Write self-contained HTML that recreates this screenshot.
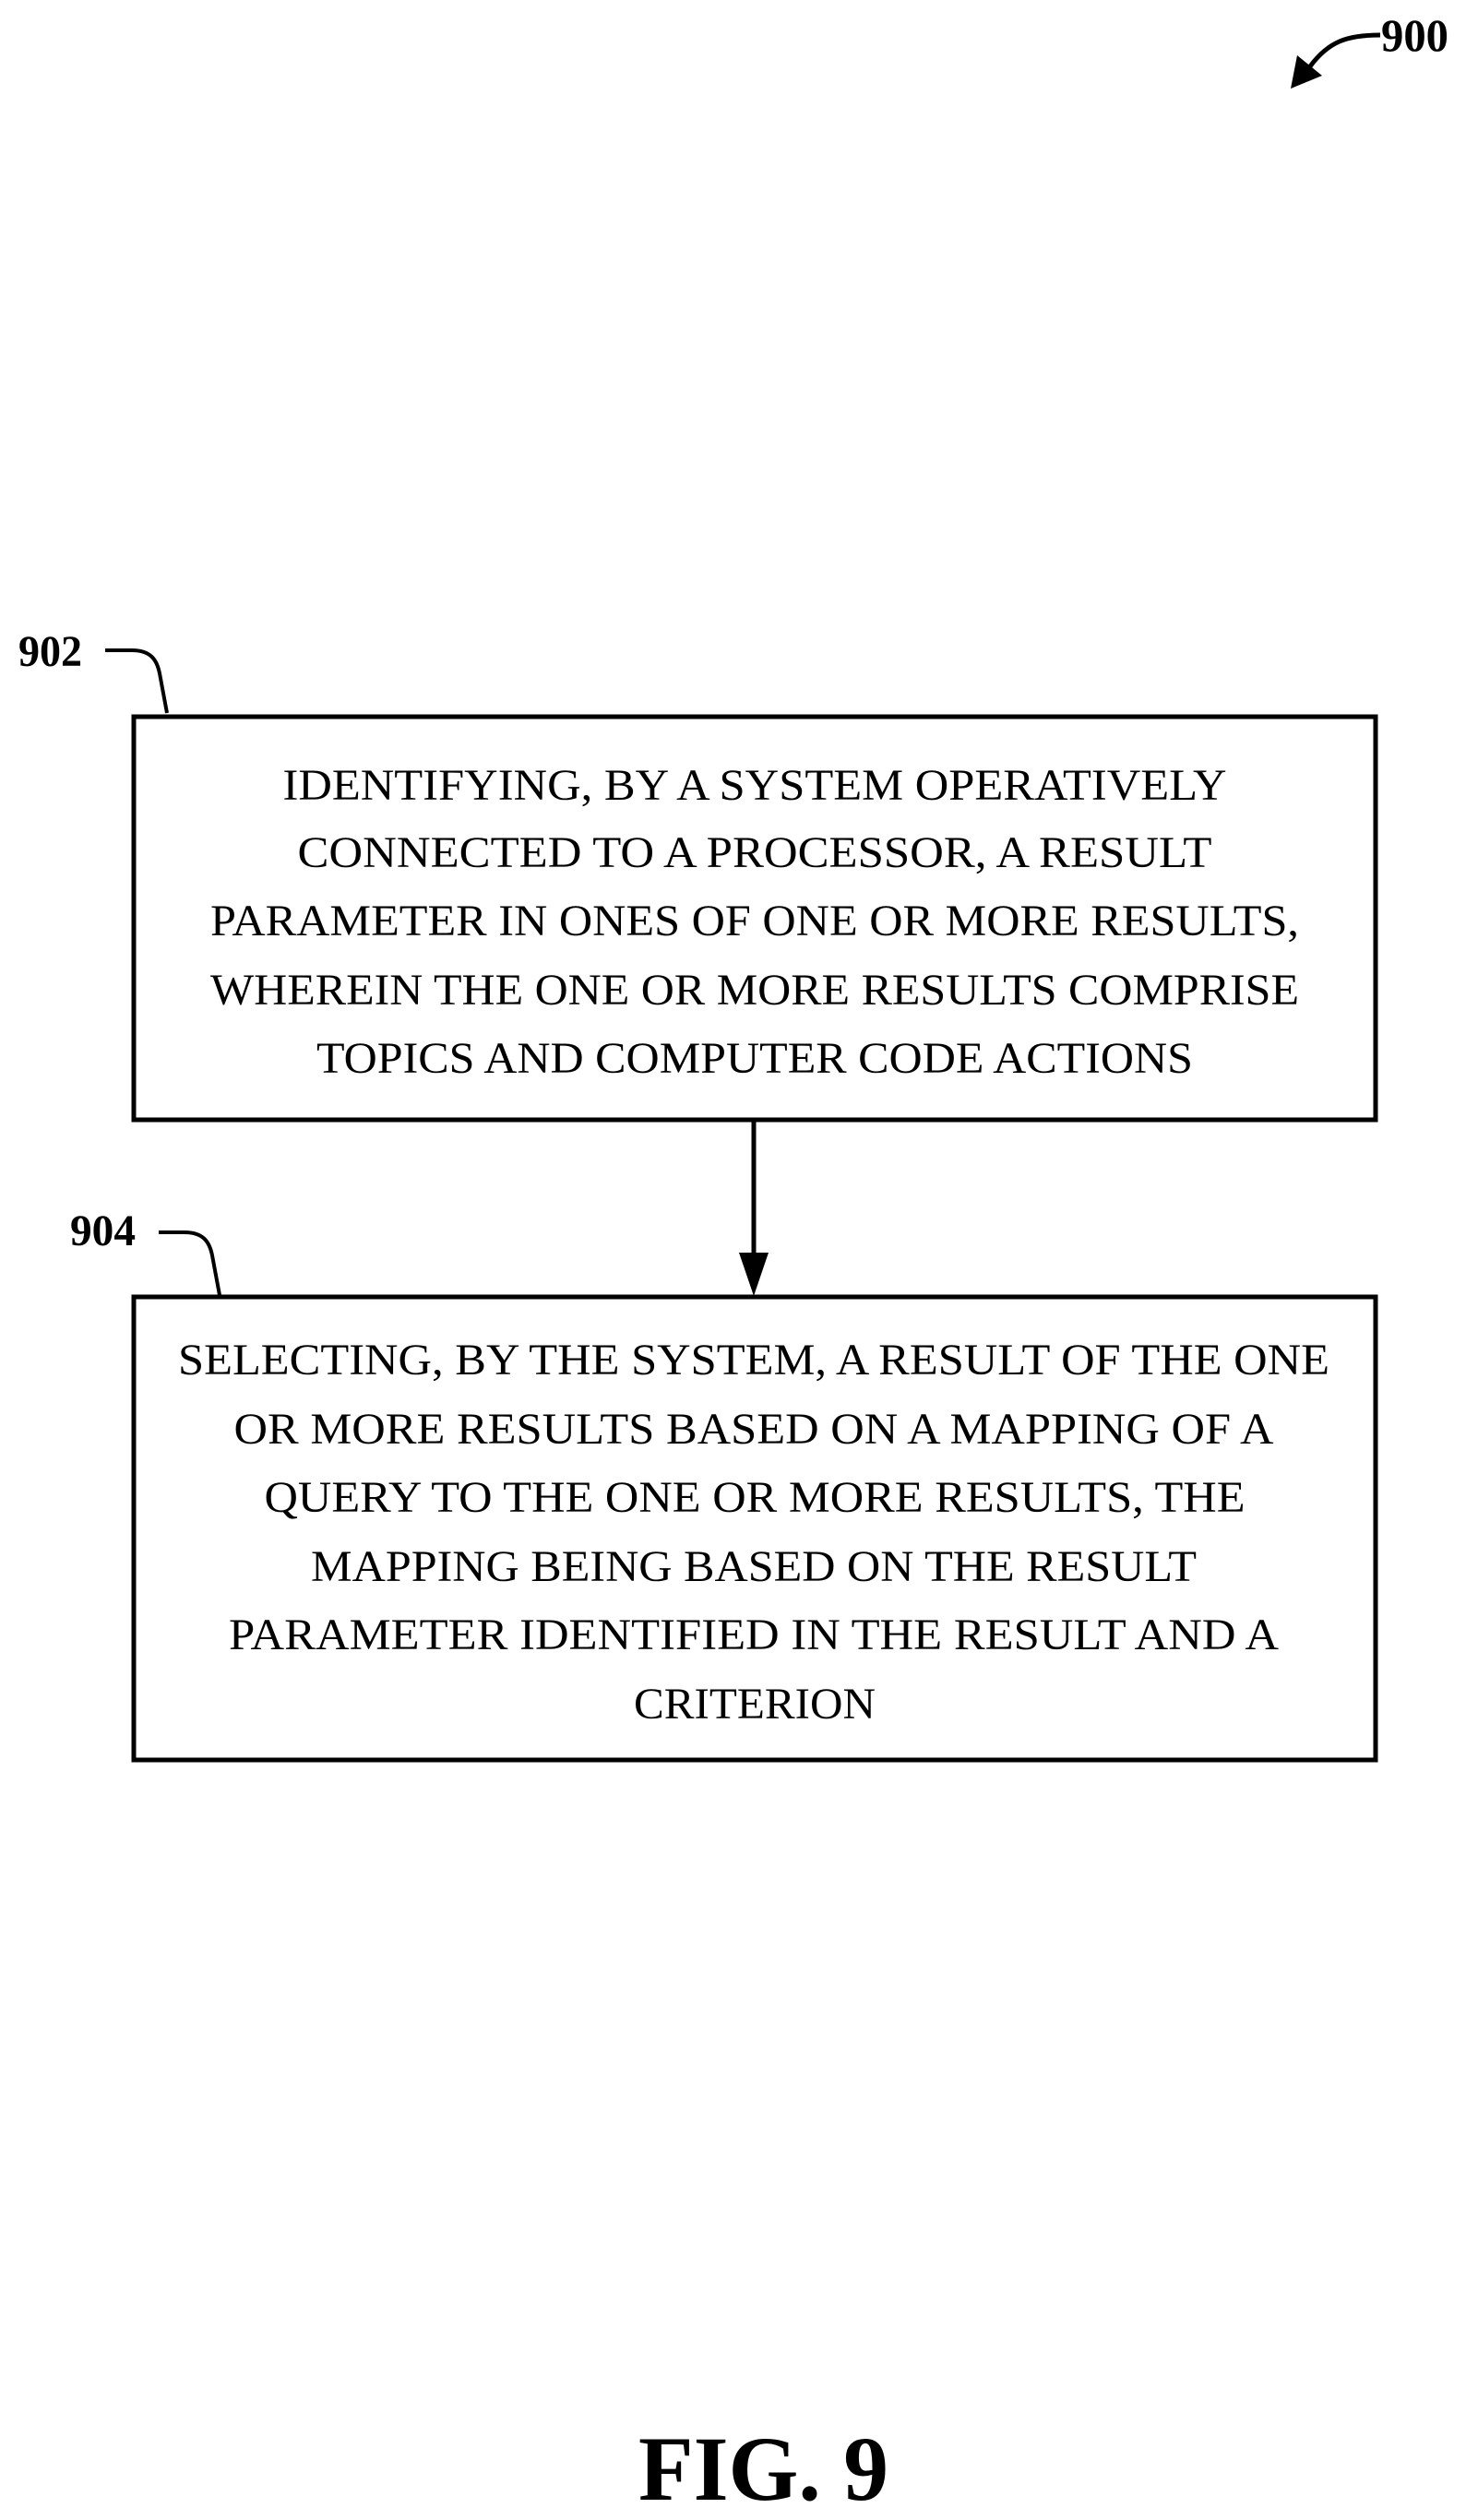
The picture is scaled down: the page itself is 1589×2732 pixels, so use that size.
<!DOCTYPE html>
<html><head><meta charset="utf-8"><style>html,body{margin:0;padding:0;background:#fff}svg{display:block}</style></head>
<body>
<svg width="1589" height="2732" viewBox="0 0 1589 2732" xmlns="http://www.w3.org/2000/svg" font-family="Liberation Serif, serif">
<rect x="0" y="0" width="1589" height="2732" fill="#fff"/>
<!-- 900 -->
<text x="1497" y="55" font-size="50" font-weight="bold" textLength="73" lengthAdjust="spacingAndGlyphs">900</text>
<path d="M1496,38 C1460,38 1440,45 1420,72" fill="none" stroke="#000" stroke-width="5"/>
<polygon points="1399,96 1406,60 1433,82" fill="#000"/>
<!-- 902 -->
<text x="20" y="722" font-size="48" font-weight="bold" textLength="69" lengthAdjust="spacingAndGlyphs">902</text>
<path d="M114,705 L143,705 C163,705 170,715 173,730 L181,773" fill="none" stroke="#000" stroke-width="4"/>
<!-- box1 -->
<rect x="145" y="777" width="1346" height="437" fill="none" stroke="#000" stroke-width="5"/>
<g font-size="48" text-anchor="middle">
<text x="818" y="867" textLength="1023" lengthAdjust="spacingAndGlyphs">IDENTIFYING, BY A SYSTEM OPERATIVELY</text>
<text x="818" y="940" textLength="991" lengthAdjust="spacingAndGlyphs">CONNECTED TO A PROCESSOR, A RESULT</text>
<text x="818" y="1014" textLength="1180" lengthAdjust="spacingAndGlyphs">PARAMETER IN ONES OF ONE OR MORE RESULTS,</text>
<text x="818" y="1089" textLength="1180" lengthAdjust="spacingAndGlyphs">WHEREIN THE ONE OR MORE RESULTS COMPRISE</text>
<text x="818" y="1163" textLength="950" lengthAdjust="spacingAndGlyphs">TOPICS AND COMPUTER CODE ACTIONS</text>
</g>
<!-- arrow -->
<line x1="817" y1="1216" x2="817" y2="1362" stroke="#000" stroke-width="5"/>
<polygon points="801,1358 833,1358 817,1405" fill="#000"/>
<!-- 904 -->
<text x="76" y="1350" font-size="48" font-weight="bold" textLength="71" lengthAdjust="spacingAndGlyphs">904</text>
<path d="M172,1336 L200,1336 C220,1336 227,1346 230,1361 L238,1404" fill="none" stroke="#000" stroke-width="4"/>
<!-- box2 -->
<rect x="145" y="1406" width="1346" height="502" fill="none" stroke="#000" stroke-width="5"/>
<g font-size="48" text-anchor="middle">
<text x="817" y="1490" textLength="1248" lengthAdjust="spacingAndGlyphs">SELECTING, BY THE SYSTEM, A RESULT OF THE ONE</text>
<text x="817" y="1565" textLength="1127" lengthAdjust="spacingAndGlyphs">OR MORE RESULTS BASED ON A MAPPING OF A</text>
<text x="818" y="1639" textLength="1063" lengthAdjust="spacingAndGlyphs">QUERY TO THE ONE OR MORE RESULTS, THE</text>
<text x="817" y="1714" textLength="960" lengthAdjust="spacingAndGlyphs">MAPPING BEING BASED ON THE RESULT</text>
<text x="817" y="1788" textLength="1138" lengthAdjust="spacingAndGlyphs">PARAMETER IDENTIFIED IN THE RESULT AND A</text>
<text x="818" y="1863" textLength="262" lengthAdjust="spacingAndGlyphs">CRITERION</text>
</g>
<!-- FIG -->
<text x="692" y="2710" font-size="100" font-weight="bold" textLength="271" lengthAdjust="spacingAndGlyphs">FIG. 9</text>
</svg>
</body></html>
